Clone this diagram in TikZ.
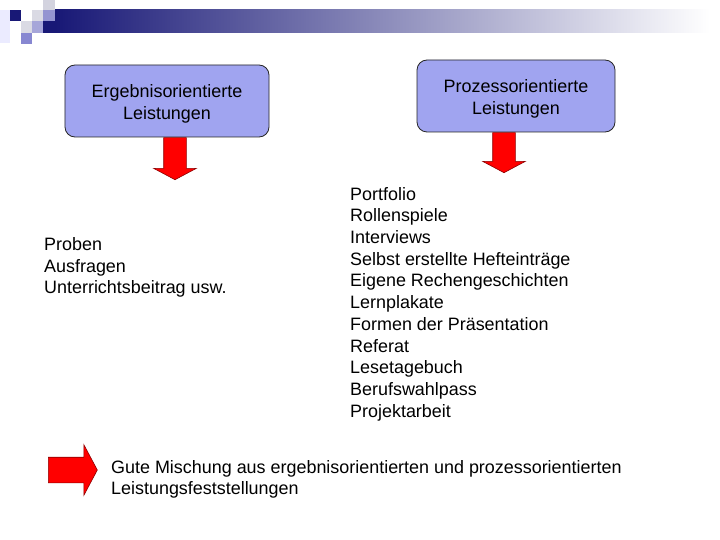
\documentclass[tikz,border=0pt]{standalone}
\usepackage{fontspec}
\setmainfont{Liberation Sans}
\usepackage{tikz}
\usetikzlibrary{shapes.arrows,positioning}
\definecolor{lila}{RGB}{160,164,240}
\definecolor{marine}{RGB}{24,24,118}
\definecolor{grau}{RGB}{178,178,204}
\newcommand{\hoch}{\rule{0pt}{19bp}}
\tikzset{
  kasten/.style={rectangle, rounded corners=10bp, draw=black!85, line width=0.8bp, fill=lila,
                 align=center, font=\fontsize{18}{21.8}\selectfont, minimum width=#1, minimum height=72bp},
  liste/.style={align=left, inner sep=0pt, font=\fontsize{18}{21.8}\selectfont},
  pfeil/.style={single arrow, draw=red!55!black, line width=0.6bp, fill=red, inner sep=11bp,
                single arrow head extend=10bp, single arrow tip angle=124, minimum width=42bp,
                minimum height=#1},
}

\begin{document}
\begin{tikzpicture}[x=1bp,y=-1bp]
    \useasboundingbox[fill=white] (0,0) rectangle (720,540);
    \fill[blue!8] (0,10) rectangle (10,43);
    \fill[marine] (10,10) rectangle (21,21);
    \fill[blue!15!gray!25] (32,10) rectangle (43,21);
    \fill[blue!15!gray!30] (43,0) rectangle (55,10);
    \fill[blue!40!gray!60] (43,10) rectangle (55,21);
    \fill[blue!15!gray!25] (21,21) rectangle (32,33);
    \fill[blue!40!gray!50] (32,21) rectangle (43,33);
    \fill[blue!45!gray!65] (21,33) rectangle (32,44);
    \fill[marine] (43,21) rectangle (55,33);
    \shade[left color=marine, middle color=grau, right color=white] (55,10) rectangle (710,33);
    \node[kasten=204bp] (a) at (167,101) {\hoch Ergebnisorientierte\\ Leistungen};
    \node[kasten=198bp] (b) at (516,96) {\hoch Prozessorientierte\\ Leistungen};
    \node[pfeil=42bp, rotate=-90, anchor=tail] (pa) at ([xshift=8bp]a.south) {};
    \node[pfeil=40bp, rotate=-90, anchor=tail] (pb) at ([xshift=-12bp]b.south) {};
    \node[liste, anchor=west] (c) at (44,267.5) {Proben\\ Ausfragen\\ Unterrichtsbeitrag usw.};
    \node[liste, anchor=west] (d) at (350,304) {Portfolio\\ Rollenspiele\\ Interviews\\
      Selbst erstellte Hefteinträge\\ Eigene Rechengeschichten\\ Lernplakate\\
      Formen der Präsentation\\ Referat\\ Lesetagebuch\\ Berufswahlpass\\ Projektarbeit};
    \node[pfeil=49bp, inner sep=12.5bp, single arrow head extend=12.5bp, minimum width=50bp,
          anchor=tail] (pc) at (48,470) {};
    \node[liste, anchor=west] (e) at (111,479.5) {Gute Mischung aus ergebnisorientierten und prozessorientierten\\
      Leistungsfeststellungen};
  \end{tikzpicture}
\end{document}
